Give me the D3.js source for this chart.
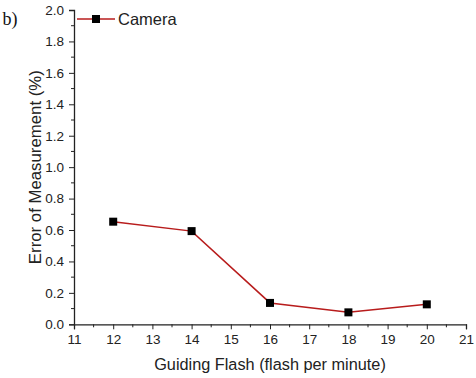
<!DOCTYPE html>
<html><head><meta charset="utf-8">
<script src="https://cdn.jsdelivr.net/npm/d3@7"></script>
<style>body{margin:0;background:#fff}svg{display:block}</style>
</head><body><div id="chart"></div>
<script>
const flashRate = [12, 14, 16, 18, 20];
const errorPct = [0.653, 0.593, 0.136, 0.076, 0.127];
const seriesName = "Camera";
const xTicks = [11,12,13,14,15,16,17,18,19,20,21];
const yTicks = [0.0,0.2,0.4,0.6,0.8,1.0,1.2,1.4,1.6,1.8,2.0];

const W = 476, H = 378;
const svg = d3.select("#chart").append("svg").attr("width", W).attr("height", H);
const x = d3.scaleLinear().domain([11, 21]).range([74, 466]);
const y = d3.scaleLinear().domain([0, 2]).range([324.3, 10]);
const font = "Liberation Sans, Arial, sans-serif";

// axes
const xAxis = svg.append("g").attr("transform", `translate(0,${y(0)})`)
  .call(d3.axisBottom(x).tickValues(xTicks).tickFormat(d3.format("d")).tickSize(5).tickPadding(5));
const yAxis = svg.append("g").attr("transform", `translate(${x(11)},0)`)
  .call(d3.axisLeft(y).tickValues(yTicks).tickFormat(d3.format(".1f")).tickSize(5).tickPadding(5));
// minor ticks
const xMinor = d3.range(11.5, 21, 1);
svg.append("g").selectAll("line").data(xMinor).join("line")
  .attr("x1", d => x(d)).attr("x2", d => x(d)).attr("y1", y(0)).attr("y2", y(0) + 3)
  .attr("stroke", "#222").attr("stroke-width", 1);
const yMinor = d3.range(0.1, 2, 0.2);
svg.append("g").selectAll("line").data(yMinor).join("line")
  .attr("x1", x(11)).attr("x2", x(11) - 3).attr("y1", d => y(d)).attr("y2", d => y(d))
  .attr("stroke", "#222").attr("stroke-width", 1);
[xAxis, yAxis].forEach(g => {
  g.selectAll("path.domain").attr("stroke", "#222").attr("stroke-width", 1.3);
  g.selectAll(".tick line").attr("stroke", "#222").attr("stroke-width", 1);
  g.selectAll(".tick text").attr("font-family", font).attr("font-size", 13.5).attr("fill", "#222");
});

// line
svg.append("path").datum(flashRate.map((d, i) => [d, errorPct[i]]))
  .attr("d", d3.line().x(d => x(d[0])).y(d => y(d[1])))
  .attr("fill", "none").attr("stroke", "#b81c1c").attr("stroke-width", 1.5);
svg.append("g").selectAll("rect").data(flashRate.map((d, i) => [d, errorPct[i]])).join("rect")
  .attr("x", d => x(d[0]) - 4).attr("y", d => y(d[1]) - 4)
  .attr("width", 8).attr("height", 8).attr("fill", "#000");

// legend
svg.append("line").attr("x1", 77).attr("x2", 115).attr("y1", 19).attr("y2", 19)
  .attr("stroke", "#b81c1c").attr("stroke-width", 1.5);
svg.append("rect").attr("x", 92).attr("y", 15).attr("width", 8).attr("height", 8).attr("fill", "#000");
svg.append("text").attr("x", 118).attr("y", 24.5).attr("font-family", font).attr("font-size", 16.5)
  .attr("fill", "#222").text(seriesName);

// titles
svg.append("text").attr("x", 270).attr("y", 370).attr("text-anchor", "middle")
  .attr("font-family", font).attr("font-size", 16.3).attr("fill", "#222")
  .text("Guiding Flash (flash per minute)");
svg.append("text").attr("transform", `translate(40.5,${y(1) + 0}) rotate(-90)`).attr("text-anchor", "middle")
  .attr("font-family", font).attr("font-size", 16.8).attr("fill", "#222")
  .text("Error of Measurement (%)");
svg.append("text").attr("x", 2.5).attr("y", 24.5).attr("font-family", "Liberation Serif, Times New Roman, serif")
  .attr("font-size", 18).attr("fill", "#111").text("b)");
</script></body></html>
